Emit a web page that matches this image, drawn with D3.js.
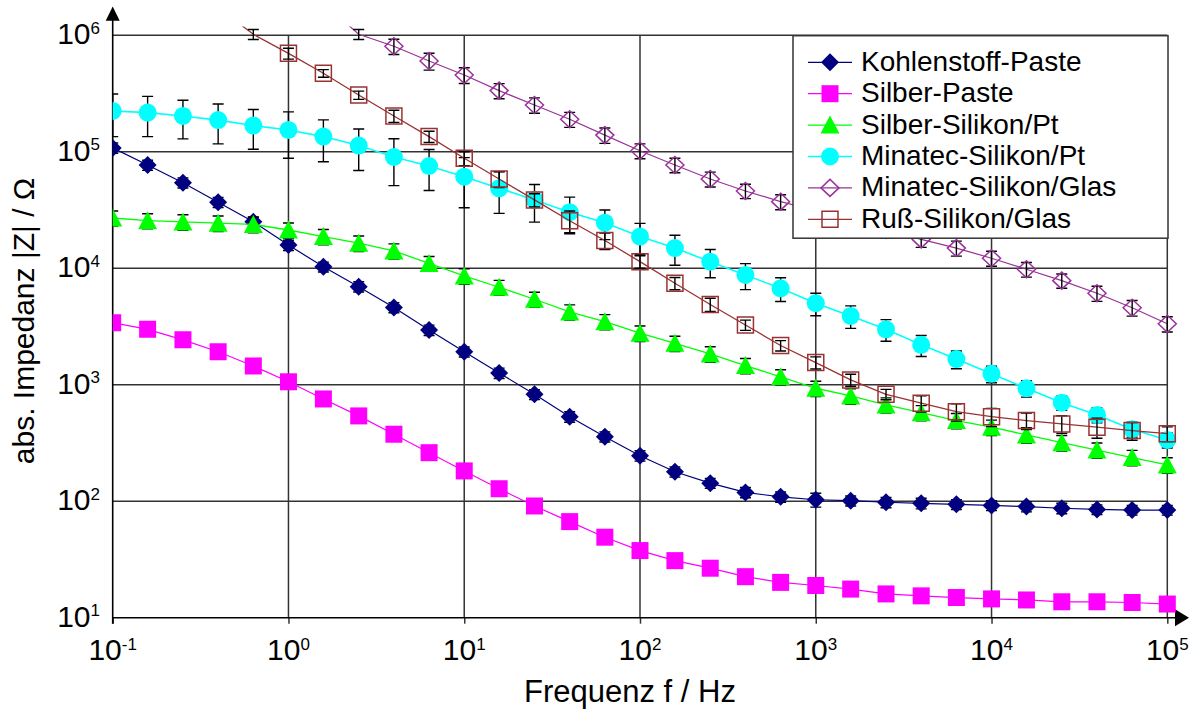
<!DOCTYPE html>
<html><head><meta charset="utf-8">
<script src="https://cdn.jsdelivr.net/npm/d3@7"></script>
<style>
body{margin:0;background:#fff}
svg{display:block}
text{font-family:"Liberation Sans",Arial,sans-serif;fill:#000}
</style></head>
<body><svg id="chart" width="1189" height="713"></svg>
<script>
// ---------- data ----------
const freqs = [0.1, 0.158, 0.251, 0.398, 0.631, 1, 1.58, 2.51, 3.98, 6.31, 10, 15.8, 25.1, 39.8, 63.1, 100, 158, 251, 398, 631, 1000, 1580, 2510, 3980, 6310, 10000, 15800, 25100, 39800, 63100, 100000];

const kohlenstoffPaste = [108000, 77000, 54300, 36900, 25100, 15800, 10300, 6950, 4610, 2950, 1920, 1260, 828, 532, 358, 246, 179, 143, 119, 109, 103, 101, 98, 96, 94, 92, 90, 87, 85, 84, 84];
const kohlenstoffErr = [10800, 7700, 5400, 3700, 2500, 1600, 1000, 700, 460, 300, 190, 130, 80, 55, 36, 25, 18, 14, 12, 11, 14, 10, 10, 10, 9, 9, 9, 9, 8, 8, 8];

const silberPaste = [3410, 2990, 2430, 1920, 1450, 1060, 755, 540, 376, 261, 182, 128, 91, 66.8, 49.1, 37.7, 30.9, 26.6, 22.5, 20.1, 18.9, 17.6, 16.0, 15.4, 14.9, 14.5, 14.2, 13.7, 13.7, 13.5, 13.1];

const silberSilikonPt = [27000, 25600, 25000, 24400, 23800, 21300, 18700, 16400, 14100, 11000, 8590, 6870, 5420, 4220, 3480, 2770, 2270, 1840, 1460, 1170, 933, 801, 671, 576, 492, 432, 371, 318, 275, 237, 205];
const silberSilikonErr = [4000, 3800, 3800, 3700, 3600, 3200, 2800, 2500, 2100, 1600, 1300, 1000, 800, 630, 520, 420, 340, 280, 220, 175, 140, 120, 100, 86, 74, 65, 56, 48, 41, 36, 31];

const minatecSilikonPt = [224000, 217000, 203000, 187000, 168000, 154000, 135000, 113000, 90200, 75500, 61100, 48600, 38600, 30300, 24600, 18700, 14900, 11400, 8760, 6730, 5010, 3900, 2990, 2200, 1660, 1240, 933, 702, 551, 415, 336];
const minatecPtErr = [89000, 82000, 74000, 70000, 63000, 66000, 53000, 44000, 39000, 29000, 28000, 19000, 13700, 10500, 7000, 5600, 4300, 3100, 2200, 1550, 1100, 850, 630, 450, 290, 200, 150, 100, 80, 60, 50];

const minatecSilikonGlas = [null, null, null, null, null, null, 1900000, 1020000, 805000, 602000, 456000, 335000, 252000, 190000, 139000, 102000, 77000, 58400, 46100, 37300, 31300, 25700, 21300, 17700, 14900, 12200, 9800, 7830, 6100, 4580, 3340];
const minatecGlasErr = [null, null, null, null, null, null, 280000, 100000, 120000, 100000, 70000, 50000, 38000, 28000, 21000, 15000, 11000, 8500, 6500, 5500, 4500, 3800, 3200, 2600, 2200, 1800, 1400, 1100, 900, 700, 500];

const russSilikonGlas = [null, null, null, 1730000, 1020000, 700000, 472000, 307000, 203000, 135000, 88000, 58400, 38600, 25600, 17300, 11400, 7430, 4890, 3260, 2170, 1550, 1100, 828, 694, 587, 532, 492, 461, 432, 404, 380];
const russErr = [null, null, null, 150000, 100000, 75000, 35000, 25000, 24000, 15000, 12000, 9000, 5000, 5400, 2800, 1400, 900, 640, 330, 220, 185, 130, 85, 110, 100, 95, 80, 80, 85, 70, 55];

const seriesNames = ["Kohlenstoff-Paste", "Silber-Paste", "Silber-Silikon/Pt", "Minatec-Silikon/Pt", "Minatec-Silikon/Glas", "Ruß-Silikon/Glas"];
const xTickValues = [0.1, 1, 10, 100, 1000, 10000, 100000];
const xTickExponents = ["-1", "0", "1", "2", "3", "4", "5"];
const yTickValues = [10, 100, 1000, 10000, 100000, 1000000];
const yTickExponents = ["1", "2", "3", "4", "5", "6"];
const xTitle = "Frequenz f / Hz";
const yTitle = "abs. Impedanz |Z| / Ω";

// ---------- styles ----------
const styles = [
  {color: "#000080", shape: "diamond", filled: true, lw: 1.2},
  {color: "#FF00FF", shape: "square", filled: true, lw: 1.2},
  {color: "#00FF00", shape: "triangle", filled: true, lw: 1.3},
  {color: "#00FFFF", shape: "circle", filled: true, lw: 1.6},
  {color: "#993399", shape: "diamondHollow", filled: false, lw: 1.2},
  {color: "#993333", shape: "squareHollow", filled: false, lw: 1.3}
];
const seriesValues = [kohlenstoffPaste, silberPaste, silberSilikonPt, minatecSilikonPt, minatecSilikonGlas, russSilikonGlas];
const seriesErrors = [kohlenstoffErr, null, silberSilikonErr, minatecPtErr, minatecGlasErr, russErr];

function shapePath(shape) {
  switch (shape) {
    case "diamond": return "M0,-9L9,0L0,9L-9,0Z";
    case "diamondHollow": return "M0,-8.5L9,0L0,8.5L-9,0Z";
    case "square": return "M-8.5,-8.5H8.5V8.5H-8.5Z";
    case "squareHollow": return "M-8,-8H8V8H-8Z";
    case "triangle": return "M0,-9.5L9.5,8.5L-9.5,8.5Z";
    case "circle": return "M9,0A9,9 0 1,1 -9,0A9,9 0 1,1 9,0Z";
  }
}

// ---------- layout ----------
const svg = d3.select("#chart");
const X0 = 112.7, X1 = 1167.3, Y0 = 617.7, Y1 = 35.3;
const x = d3.scaleLog().domain([0.1, 100000]).range([X0, X1]);
const y = d3.scaleLog().domain([10, 1000000]).range([Y0, Y1]);

svg.append("defs").append("clipPath").attr("id", "plotClip")
  .append("rect").attr("x", X0).attr("y", 26.5).attr("width", 1189 - X0).attr("height", 713 - 26.5);

// grid
const grid = svg.append("g").attr("stroke", "#333").attr("stroke-width", 1.5);
grid.selectAll("line.v").data(xTickValues.slice(1)).join("line")
  .attr("x1", d => x(d)).attr("x2", d => x(d)).attr("y1", Y1).attr("y2", Y0);
grid.selectAll("line.h").data(yTickValues.slice(1)).join("line")
  .attr("x1", X0).attr("x2", X1).attr("y1", d => y(d)).attr("y2", d => y(d));

// x axis ticks via d3 axis
svg.append("g").attr("transform", `translate(0,${Y0})`)
  .call(d3.axisBottom(x).tickValues(xTickValues).tickFormat("").tickSize(6).tickSizeOuter(0))
  .call(g => g.select(".domain").remove())
  .call(g => g.selectAll(".tick line").attr("stroke", "#333").attr("stroke-width", 1.5));

// axes lines + arrows
svg.append("line").attr("x1", X0).attr("x2", X0).attr("y1", Y0 + 6).attr("y2", 19).attr("stroke", "#000").attr("stroke-width", 1.6);
svg.append("path").attr("d", `M${X0},6.5L${X0 - 7},20.7L${X0 + 7},20.7Z`).attr("fill", "#000");
svg.append("line").attr("x1", X0).attr("x2", 1176).attr("y1", Y0).attr("y2", Y0).attr("stroke", "#000").attr("stroke-width", 1.6);
svg.append("path").attr("d", `M1189,${Y0}L1175,${Y0 - 8.5}L1175,${Y0 + 8.5}Z`).attr("fill", "#000");

// series
const plot = svg.append("g").attr("clip-path", "url(#plotClip)");
const lineGen = d3.line().defined(d => d.v != null).x(d => x(d.f)).y(d => y(d.v));

seriesValues.forEach((vals, si) => {
  const st = styles[si];
  const pts = freqs.map((f, i) => ({f, v: vals[i], e: seriesErrors[si] ? seriesErrors[si][i] : null}));
  const g = plot.append("g");
  g.append("path").datum(pts).attr("d", lineGen).attr("fill", "none")
    .attr("stroke", st.color).attr("stroke-width", st.lw);
  // error bars
  const eb = pts.filter(d => d.v != null && d.e != null);
  const ebg = g.append("g").attr("stroke", "#000").attr("stroke-width", 1.4).attr("fill", "none");
  ebg.selectAll("path").data(eb).join("path")
    .attr("d", d => {
      const cx = x(d.f), yt = y(d.v + d.e), yb = y(Math.max(d.v - d.e, 1e-3));
      return `M${cx},${yt}V${yb}M${cx - 5.5},${yt}H${cx + 5.5}M${cx - 5.5},${yb}H${cx + 5.5}`;
    });
  // markers (only inside axis range)
  const mk = pts.filter(d => d.v != null && d.v <= 1000000);
  g.selectAll("path.mk").data(mk).join("path").attr("class", "mk")
    .attr("d", shapePath(st.shape))
    .attr("transform", d => `translate(${x(d.f)},${y(d.v)})`)
    .attr("fill", st.filled ? st.color : "none")
    .attr("stroke", st.filled ? "none" : st.color)
    .attr("stroke-width", st.filled ? 0 : 1.5);
});

// tick labels
const xl = svg.append("g");
xTickValues.forEach((v, i) => {
  const t = xl.append("text").attr("x", x(v)).attr("y", 660).attr("text-anchor", "middle");
  t.append("tspan").attr("font-size", 30).text("10");
  t.append("tspan").attr("font-size", 17).attr("dy", -10.5).text(xTickExponents[i]);
});
yTickValues.forEach((v, i) => {
  const t = xl.append("text").attr("x", 100).attr("y", y(v) + 9).attr("text-anchor", "end");
  t.append("tspan").attr("font-size", 30).text("10");
  t.append("tspan").attr("font-size", 17).attr("dy", -10.5).text(yTickExponents[i]);
});

// axis titles
svg.append("text").attr("x", 630).attr("y", 702).attr("text-anchor", "middle").attr("font-size", 31).text(xTitle);
svg.append("text").attr("transform", "translate(34,321) rotate(-90)").attr("text-anchor", "middle").attr("font-size", 30).text(yTitle);

// legend
const lg = svg.append("g");
lg.append("rect").attr("x", 793).attr("y", 35.7).attr("width", 375).attr("height", 202.5)
  .attr("fill", "#fff").attr("stroke", "#333").attr("stroke-width", 1.5);
seriesNames.forEach((name, i) => {
  const st = styles[i];
  const ry = 62.3 + i * 31.4;
  lg.append("line").attr("x1", 808).attr("x2", 852).attr("y1", ry).attr("y2", ry)
    .attr("stroke", st.color).attr("stroke-width", st.lw);
  lg.append("path").attr("d", shapePath(st.shape)).attr("transform", `translate(830,${ry})`)
    .attr("fill", st.filled ? st.color : "none")
    .attr("stroke", st.filled ? "none" : st.color).attr("stroke-width", st.filled ? 0 : 1.5);
  lg.append("text").attr("x", 861).attr("y", ry + 8.5).attr("font-size", 28).text(name);
});
</script>
</body></html>
